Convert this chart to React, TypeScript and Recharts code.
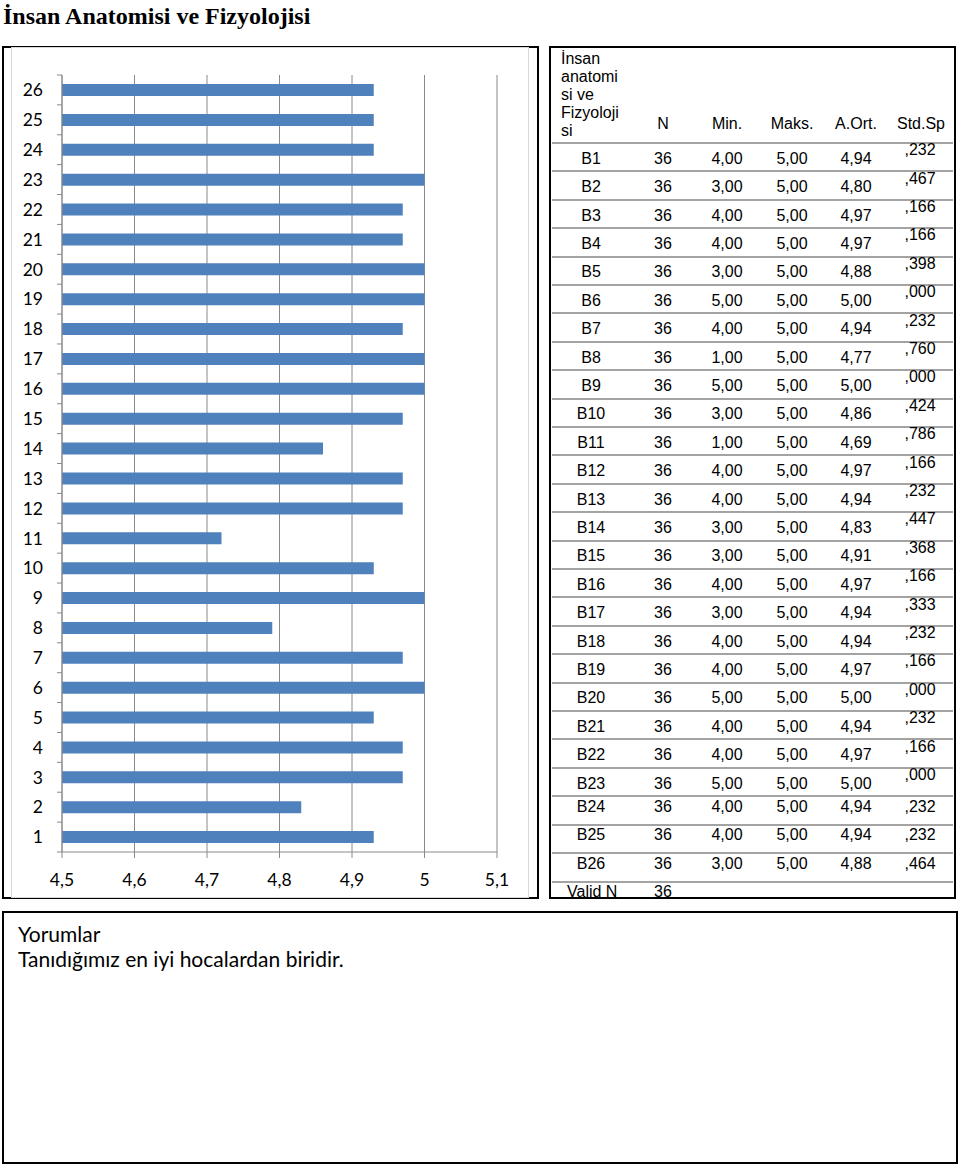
import React from 'react';
import { BarChart, Bar, XAxis, YAxis, CartesianGrid } from 'recharts';

// ---- Chart data ----
const categories = ['1', '2', '3', '4', '5', '6', '7', '8', '9', '10', '11', '12', '13', '14', '15', '16', '17', '18', '19', '20', '21', '22', '23', '24', '25', '26'];
const barValues = [4.93, 4.83, 4.97, 4.97, 4.93, 5.0, 4.97, 4.79, 5.0, 4.93, 4.72, 4.97, 4.97, 4.86, 4.97, 5.0, 5.0, 4.97, 5.0, 5.0, 4.97, 4.97, 5.0, 4.93, 4.93, 4.93];
const xTicks = [4.5, 4.6, 4.7, 4.8, 4.9, 5.0, 5.1];

// ---- Table data ----
const itemLabels = ['B1', 'B2', 'B3', 'B4', 'B5', 'B6', 'B7', 'B8', 'B9', 'B10', 'B11', 'B12', 'B13', 'B14', 'B15', 'B16', 'B17', 'B18', 'B19', 'B20', 'B21', 'B22', 'B23', 'B24', 'B25', 'B26'];
const nValues = [36, 36, 36, 36, 36, 36, 36, 36, 36, 36, 36, 36, 36, 36, 36, 36, 36, 36, 36, 36, 36, 36, 36, 36, 36, 36];
const minValues = [4, 3, 4, 4, 3, 5, 4, 1, 5, 3, 1, 4, 4, 3, 3, 4, 3, 4, 4, 5, 4, 4, 5, 4, 4, 3];
const maxValues = [5, 5, 5, 5, 5, 5, 5, 5, 5, 5, 5, 5, 5, 5, 5, 5, 5, 5, 5, 5, 5, 5, 5, 5, 5, 5];
const meanValues = [4.94, 4.8, 4.97, 4.97, 4.88, 5.0, 4.94, 4.77, 5.0, 4.86, 4.69, 4.97, 4.94, 4.83, 4.91, 4.97, 4.94, 4.94, 4.97, 5.0, 4.94, 4.97, 5.0, 4.94, 4.94, 4.88];
const sdValues = [0.232, 0.467, 0.166, 0.166, 0.398, 0.0, 0.232, 0.76, 0.0, 0.424, 0.786, 0.166, 0.232, 0.447, 0.368, 0.166, 0.333, 0.232, 0.166, 0.0, 0.232, 0.166, 0.0, 0.232, 0.232, 0.464];
const headerLines = ['İnsan', 'anatomi', 'si ve', 'Fizyoloji', 'si'];
const columnHeaders = ['N', 'Min.', 'Maks.', 'A.Ort.', 'Std.Sp'];
const validN = 36;

const title = 'İnsan Anatomisi ve Fizyolojisi';
const commentTitle = 'Yorumlar';
const commentText = 'Tanıdığımız en iyi hocalardan biridir.';

const chartData = categories.map((c, i) => ({ label: c, value: barValues[i] }));

// ---- Layout ----
const CHART_W = 518;
const CHART_H = 851;
const MARGIN = { top: 28, right: 32, left: 0, bottom: 0 };
const Y_W = 51;
const X_H = 46;
const PLOT_H = CHART_H - MARGIN.top - MARGIN.bottom - X_H;
const AXIS_COLOR = '#8a8a8a';
const BAR_COLOR = '#4F81BD';
const Y_TICK_SIZE = 5;
const Y_TICK_MARGIN = 14;
const CHART_FONT = 'Lato, "Open Sans", sans-serif';
const TABLE_FONT = '"Liberation Sans", Arial, sans-serif';
const AXIS_FONT_SIZE = 17.5;

const fmt2 = (v: number) => v.toFixed(2).replace('.', ',');
const fmtSd = (v: number) => v.toFixed(3).replace(/^0\./, ',');
const fmtTick = (v: number) => String(v).replace('.', ',');

const YTick = (props: any) => {
  const { x, y, payload, index } = props;
  const axisX = x + Y_TICK_SIZE + Y_TICK_MARGIN;
  const band = PLOT_H / categories.length;
  return (
    <g>
      <line x1={axisX - Y_TICK_SIZE} x2={axisX} y1={y - band / 2} y2={y - band / 2} stroke={AXIS_COLOR} />
      {index === 0 && (
        <line x1={axisX - Y_TICK_SIZE} x2={axisX} y1={y + band / 2} y2={y + band / 2} stroke={AXIS_COLOR} />
      )}
      <text x={x} y={y} dy="0.36em" textAnchor="end" fontFamily={CHART_FONT} fontSize={AXIS_FONT_SIZE} fill="#000">
        {payload.value}
      </text>
    </g>
  );
};

const abs = (s: React.CSSProperties): React.CSSProperties => ({ position: 'absolute', ...s });

const Cell = ({ cx, cy, children }: { cx: number; cy: number; children: React.ReactNode }) => (
  <div
    style={abs({
      left: cx,
      top: cy,
      transform: 'translate(-50%, -50%)',
      lineHeight: '16px',
      fontSize: 16,
      whiteSpace: 'nowrap',
      fontFamily: TABLE_FONT,
    })}
  >
    {children}
  </div>
);

const COL_X = [591, 663, 727, 792, 856, 921];
const HEADER_LINE_Y = 143;
const ROW_H = 28.4;
const ROW_H2 = 28.5;

const rowTop = (i: number) =>
  i <= 23 ? HEADER_LINE_Y + ROW_H * i : HEADER_LINE_Y + ROW_H * 23 + ROW_H2 * (i - 23);

export default function App() {
  return (
    <div style={abs({ left: 0, top: 0, width: 960, height: 1166, background: '#fff', color: '#000' })}>
      {/* Title */}
      <div
        style={abs({
          left: 3,
          top: 4,
          fontFamily: '"Liberation Serif", "Times New Roman", serif',
          fontWeight: 'bold',
          fontSize: 24,
          lineHeight: '24px',
          whiteSpace: 'nowrap',
        })}
      >
        {title}
      </div>

      {/* Chart frame */}
      <div style={abs({ left: 2, top: 46, width: 537, height: 853, border: '2px solid #000', boxSizing: 'border-box' })} />
      <div style={abs({ left: 11, top: 47, width: CHART_W, height: CHART_H, border: '1px solid #d9d9d9', boxSizing: 'border-box' })} />
      <div style={abs({ left: 11, top: 47 })}>
        <BarChart width={CHART_W} height={CHART_H} data={chartData} layout="vertical" margin={MARGIN} barCategoryGap={0}>
          <CartesianGrid horizontal={false} stroke={AXIS_COLOR} strokeWidth={1} />
          <XAxis
            type="number"
            domain={[4.5, 5.1]}
            ticks={xTicks}
            tickFormatter={fmtTick}
            height={X_H}
            stroke={AXIS_COLOR}
            tickSize={6}
            tickMargin={16}
            tick={{ fill: '#000', fontSize: AXIS_FONT_SIZE, fontFamily: CHART_FONT }}
            interval={0}
            allowDataOverflow
          />
          <YAxis
            type="category"
            dataKey="label"
            reversed
            width={Y_W}
            stroke={AXIS_COLOR}
            tickLine={false}
            tickSize={Y_TICK_SIZE}
            tickMargin={Y_TICK_MARGIN}
            tick={<YTick />}
            interval={0}
          />
          <Bar dataKey="value" fill={BAR_COLOR} barSize={12} isAnimationActive={false} />
        </BarChart>
      </div>

      {/* Table frame */}
      <div style={abs({ left: 549, top: 46, width: 407, height: 853, border: '2px solid #000', boxSizing: 'border-box' })} />
      <div
        style={abs({
          left: 561,
          top: 50,
          fontFamily: TABLE_FONT,
          fontSize: 16,
          lineHeight: '18px',
        })}
      >
        {headerLines.map((l, i) => (
          <div key={i} style={{ whiteSpace: 'nowrap' }}>{l}</div>
        ))}
      </div>
      {columnHeaders.map((h, j) => (
        <Cell key={h} cx={COL_X[j + 1]} cy={123.5}>
          {h}
        </Cell>
      ))}
      <div style={abs({ left: 552, top: HEADER_LINE_Y - 1, width: 401, height: 2, background: '#a3a3a3' })} />
      {itemLabels.map((lab, i) => {
        const top = rowTop(i);
        const bottom = rowTop(i + 1);
        const raised = i < 23;
        const cy = raised ? (top + bottom) / 2 + 1.5 : top + 10.5;
        return (
          <React.Fragment key={lab}>
            <Cell cx={COL_X[0]} cy={cy}>{lab}</Cell>
            <Cell cx={COL_X[1]} cy={cy}>{nValues[i]}</Cell>
            <Cell cx={COL_X[2]} cy={cy}>{fmt2(minValues[i])}</Cell>
            <Cell cx={COL_X[3]} cy={cy}>{fmt2(maxValues[i])}</Cell>
            <Cell cx={COL_X[4]} cy={cy}>{fmt2(meanValues[i])}</Cell>
            <Cell cx={COL_X[5] - 1} cy={raised ? cy - 8.5 : cy}>{fmtSd(sdValues[i])}</Cell>
            <div style={abs({ left: 552, top: bottom - 1, width: 401, height: 2, background: '#a3a3a3' })} />
          </React.Fragment>
        );
      })}
      <div
        style={abs({
          left: 567,
          top: 891.5,
          transform: 'translateY(-50%)',
          fontFamily: TABLE_FONT,
          fontSize: 16,
          lineHeight: '16px',
          whiteSpace: 'nowrap',
        })}
      >
        Valid N
      </div>
      <Cell cx={COL_X[1]} cy={891.5}>{validN}</Cell>

      {/* Comments box */}
      <div style={abs({ left: 2, top: 911, width: 956, height: 253, border: '2px solid #000', boxSizing: 'border-box' })} />
      <div
        style={abs({
          left: 18,
          top: 921,
          fontFamily: CHART_FONT,
          fontSize: 21,
          lineHeight: '25px',
          whiteSpace: 'nowrap',
        })}
      >
        <div>{commentTitle}</div>
        <div>{commentText}</div>
      </div>
    </div>
  );
}
